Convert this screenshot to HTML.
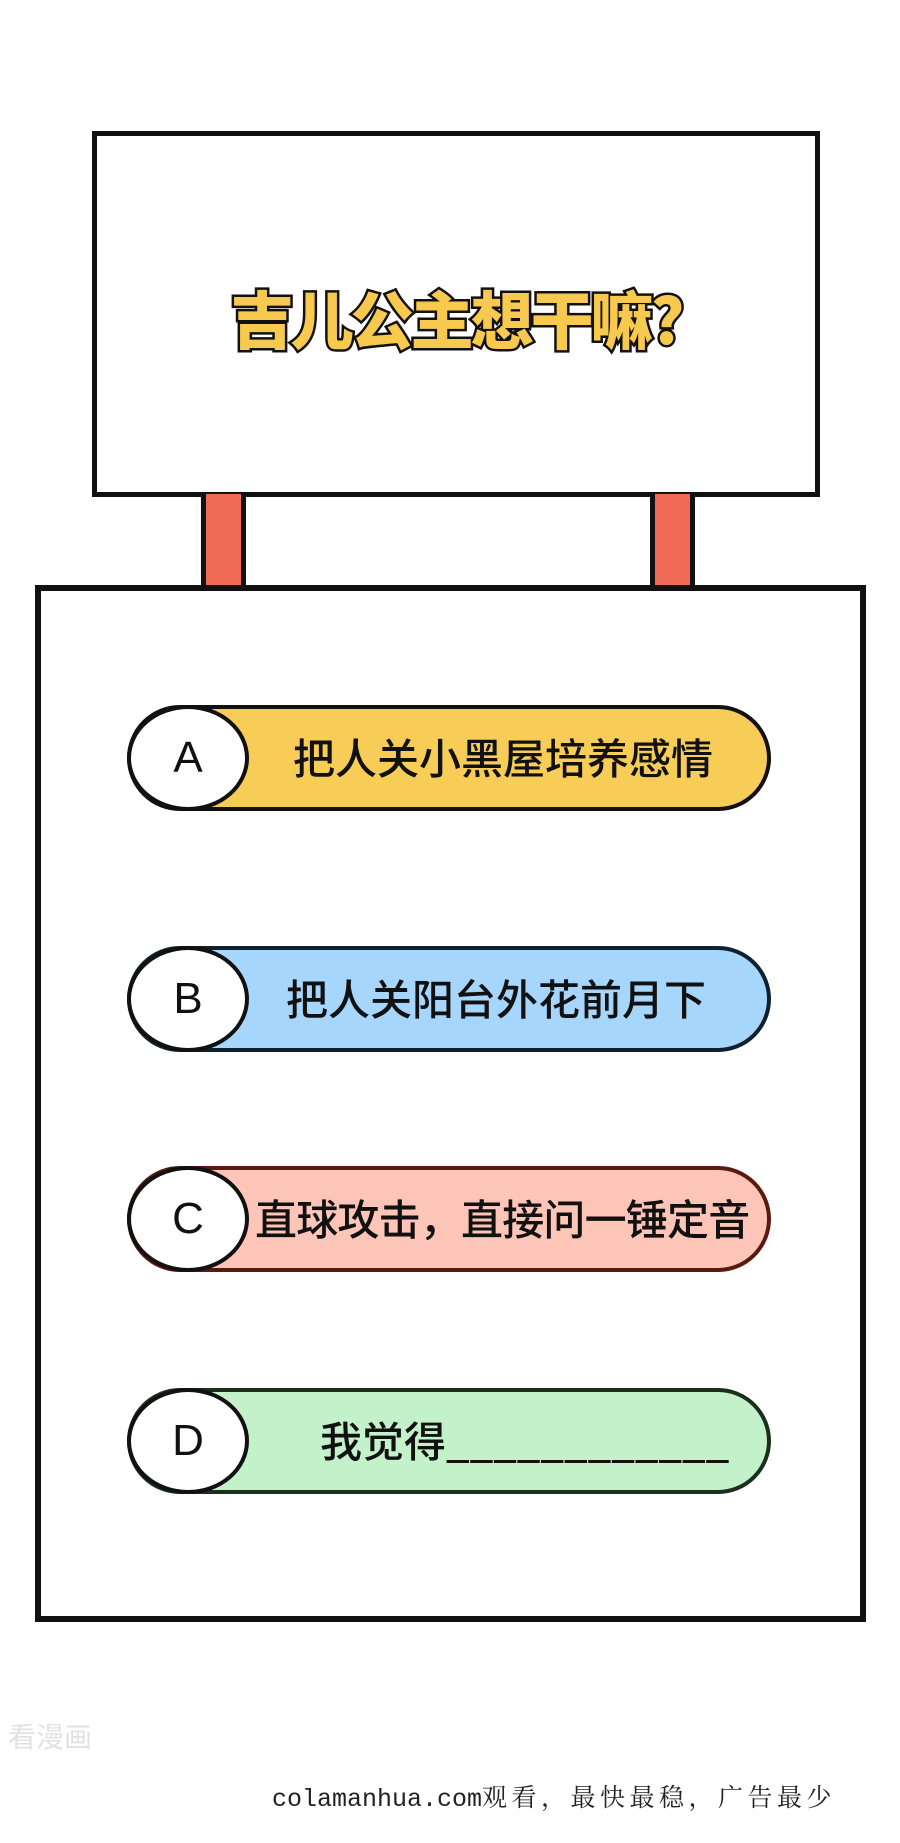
<!DOCTYPE html>
<html><head><meta charset="utf-8"><style>
body{margin:0;width:900px;height:1843px;background:#fff;position:relative;font-family:"Liberation Sans","Noto Sans CJK SC",sans-serif;overflow:hidden}
.abs{position:absolute;box-sizing:border-box}
.board{left:92px;top:131px;width:728px;height:366px;border:5px solid #111;background:#fff}
.post{top:494px;width:45px;height:94px;background:#ef6b55;border:5px solid #111;border-top:none;border-bottom:none}
.box{left:35px;top:585px;width:831px;height:1037px;border:6px solid #111;background:#fff}
.title{left:92px;top:272px;width:728px;text-align:center;font-size:63px;font-weight:900;color:#f7c94f;-webkit-text-stroke:5px #111;paint-order:stroke fill;letter-spacing:-3px;font-family:"Noto Sans CJK SC",sans-serif}
.pill{left:127px;width:644px;height:106px;border:4px solid #111;border-radius:53px}
.circ{left:127px;width:122px;height:106px;border:4px solid #111;border-radius:50%;background:#fff;font-size:44px;display:flex;align-items:center;justify-content:center;color:#111;font-family:"Liberation Sans",sans-serif}
.txt{height:106px;display:flex;align-items:center;font-size:42px;color:#111;font-family:"Noto Sans CJK SC",sans-serif;font-weight:500;white-space:nowrap}
</style></head><body>
<div class="abs board"></div>
<div class="abs title">吉儿公主想干嘛?</div>
<div class="abs post" style="left:201px"></div>
<div class="abs post" style="left:650px"></div>
<div class="abs box"></div>

<div class="abs pill" style="top:705px;background:#f7cd58"></div>
<div class="abs circ" style="top:705px">A</div>
<div class="abs txt" style="top:703px;left:293px">把人关小黑屋培养感情</div>

<div class="abs pill" style="top:946px;background:#a6d6fb;border-color:#0f2030"></div>
<div class="abs circ" style="top:946px">B</div>
<div class="abs txt" style="top:944px;left:286px">把人关阳台外花前月下</div>

<div class="abs pill" style="top:1166px;background:#fdc4b8;border-color:#5a1a10"></div>
<div class="abs circ" style="top:1166px">C</div>
<div class="abs txt" style="top:1164px;left:255px;letter-spacing:-0.8px">直球攻击，直接问一锤定音</div>

<div class="abs pill" style="top:1388px;background:#c3f1c9;border-color:#1a2f1c"></div>
<div class="abs circ" style="top:1388px">D</div>
<div class="abs txt" style="top:1386px;left:320px">我觉得____________</div>

<div class="abs" style="left:8px;top:1716px;font-size:28px;color:#e2e2e2;font-family:'Noto Sans CJK SC',sans-serif">看漫画</div>
<div class="abs" style="left:272px;top:1778px;font-size:25px;color:#222;white-space:nowrap"><span style="font-family:'Liberation Mono',monospace">colamanhua.com</span><span style="font-family:'Noto Serif CJK SC',serif;letter-spacing:4.5px">观看，最快最稳，广告最少</span></div>
</body></html>
